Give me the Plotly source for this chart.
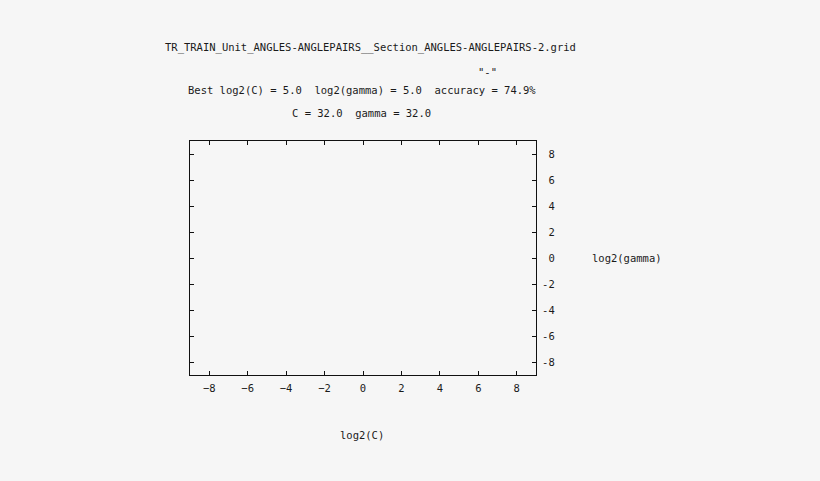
import plotly.graph_objects as go

# grid search result (no contour points were drawn)
log2c = []
log2g = []

title = "TR_TRAIN_Unit_ANGLES-ANGLEPAIRS__Section_ANGLES-ANGLEPAIRS-2.grid"
best_line = "Best log2(C) = 5.0  log2(gamma) = 5.0  accuracy = 74.9%"
c_line = "C = 32.0  gamma = 32.0"
key_label = '"-"'

tick_vals = [-8, -6, -4, -2, 0, 2, 4, 6, 8]
y_tick_text = ["%2d" % v for v in tick_vals]
axis_range = [-9, 9]

font = dict(family="DejaVu Sans Mono", size=10.5, color="#1a1a1a")
bg = "#f6f6f6"

fig = go.Figure(go.Scatter(x=log2c, y=log2g, mode="lines", name="-", line_color="#cc0000"))

fig.update_xaxes(range=axis_range, tickvals=tick_vals, ticks="inside", ticklen=4,
                 tickcolor="#111", showline=True, linecolor="#111", linewidth=1,
                 mirror="ticks", showgrid=False, zeroline=False, ticklabelstandoff=3)
fig.update_yaxes(range=axis_range, tickvals=tick_vals, ticktext=y_tick_text, side="right",
                 ticks="inside", ticklen=4, tickcolor="#111", showline=True,
                 linecolor="#111", linewidth=1, mirror="ticks", showgrid=False,
                 zeroline=False, ticklabelstandoff=3)

notes = [
    dict(text=title, x=0.523, y=1.40),
    dict(text=key_label, x=0.861, y=1.295),
    dict(text=best_line, x=0.497, y=1.218),
    dict(text=c_line, x=0.497, y=1.12),
    dict(text="log2(gamma)", x=1.156, y=0.5, xanchor="left"),
    dict(text="log2(C)", x=0.497, y=-0.256),
]
for n in notes:
    fig.add_annotation(xref="paper", yref="paper", showarrow=False,
                       xanchor=n.get("xanchor", "center"), yanchor="middle",
                       text=n["text"], x=n["x"], y=n["y"], font=font)

fig.update_layout(width=820, height=481, showlegend=False, font=font,
                  paper_bgcolor=bg, plot_bgcolor=bg,
                  margin=dict(l=190, r=284, t=141, b=106))

# gnuplot png has no page border, so drop the body margin
fig.write_html("out.html", config={"displayModeBar": False},
               post_script="document.body.style.margin='0';"
               "document.body.style.background='%s';" % bg)
